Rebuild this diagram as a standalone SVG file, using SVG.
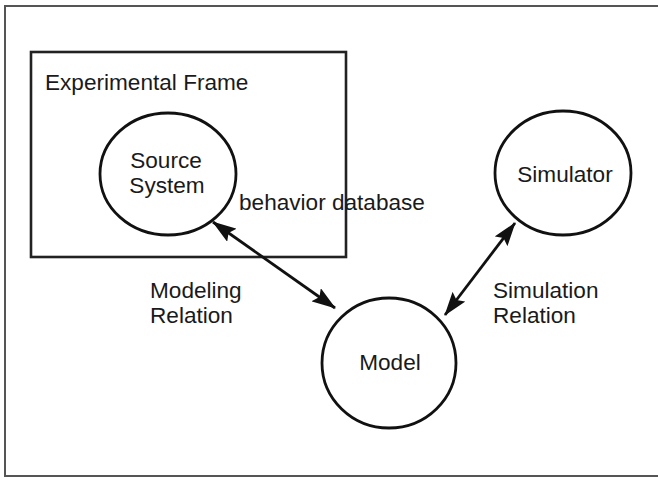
<svg xmlns="http://www.w3.org/2000/svg" width="658" height="480" viewBox="0 0 658 480">
<defs>
<style>
text{font-family:"Liberation Sans",Arial,sans-serif;font-size:22.6px;fill:#1a1a1a}
.node{fill:none;stroke:#111;stroke-width:2.8}
.frame{fill:none;stroke:#222;stroke-width:2.6}
.border{fill:none;stroke:#555;stroke-width:2}
.conn{stroke:#111;stroke-width:2.8;fill:none}
</style>
<marker id="ah" viewBox="0 0 24 16" refX="23" refY="8" markerWidth="24" markerHeight="16" markerUnits="userSpaceOnUse" orient="auto-start-reverse">
<path d="M0,0 L24,8 L0,16 L4,8 Z" fill="#111"/>
</marker>
</defs>
<rect class="border" x="5" y="6" width="700" height="470"/>
<g id="experimental-frame">
<rect class="frame" x="31" y="52" width="315" height="205"/>
<text x="45" y="90">Experimental Frame</text>
</g>
<g id="source-system">
<ellipse class="node" cx="168" cy="174" rx="68" ry="61"/>
<text x="166" y="168" text-anchor="middle">Source</text>
<text x="167" y="193" text-anchor="middle">System</text>
</g>
<g id="behavior-label">
<text x="239" y="210">behavior database</text>
</g>
<g id="simulator">
<ellipse class="node" cx="563" cy="173" rx="68" ry="62"/>
<text x="565" y="182" text-anchor="middle">Simulator</text>
</g>
<g id="model">
<ellipse class="node" cx="389" cy="363" rx="67" ry="65"/>
<text x="390" y="370" text-anchor="middle">Model</text>
</g>
<g id="connectors">
<line class="conn" x1="213" y1="222" x2="335" y2="308" marker-start="url(#ah)" marker-end="url(#ah)"/>
<line class="conn" x1="445" y1="315" x2="515" y2="223" marker-start="url(#ah)" marker-end="url(#ah)"/>
</g>
<g id="labels">
<text x="150" y="298">Modeling</text>
<text x="150" y="323">Relation</text>
<text x="493" y="298">Simulation</text>
<text x="493" y="323">Relation</text>
</g>
</svg>
